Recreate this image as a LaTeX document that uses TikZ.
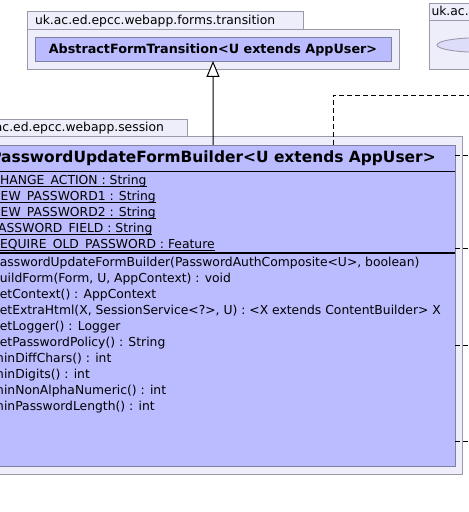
\documentclass[tikz,border=0pt]{standalone}
\usepackage{fontspec}
\setmainfont{DejaVu Sans}
\usetikzlibrary{arrows.meta,shapes.geometric}
\definecolor{pkgfill}{RGB}{238,238,250}
\definecolor{pkgline}{RGB}{153,153,170}
\definecolor{clsfill}{RGB}{187,187,255}
\definecolor{clsline}{RGB}{128,128,160}
\definecolor{ellfill}{RGB}{221,221,250}
\begin{document}
\begin{tikzpicture}[x=1bp,y=-1bp,
  box/.style={inner sep=0pt,outer sep=0pt,anchor=north west,line width=0.9bp},
  pkg/.style={box,draw=pkgline,fill=pkgfill},
  cls/.style={box,draw=clsline,fill=clsfill},
  txt/.style={inner sep=0pt,outer sep=0pt,anchor=base west,font=\fontsize{12.4}{15}\selectfont},
  btxt/.style={inner sep=0pt,outer sep=0pt,anchor=base,font=\fontsize{12.8}{15}\selectfont\bfseries},
  ttxt/.style={inner sep=0pt,outer sep=0pt,anchor=base,font=\fontsize{15.5}{18}\selectfont\bfseries},
  dep/.style={line width=0.9bp,dash pattern=on 5bp off 3bp},
  uline/.style={line width=0.8bp}]
\useasboundingbox (0,0) rectangle (469,512);
\clip (0,0) rectangle (469,512);
\fill[white] (0,0) rectangle (469,512);
% package: transition
\node[pkg,minimum width=276bp,minimum height=18bp] (p1tab) at (27,11) {};
\node[pkg,minimum width=372bp,minimum height=40bp] (p1) at (27,29) {};
\node[txt] (p1lab) at (35,25) {uk.ac.ed.epcc.webapp.forms.transition};
\node[cls,minimum width=356bp,minimum height=24bp] (c1) at (35,37) {};
\node[btxt] (c1lab) at (213,53.5) {AbstractFormTransition<U extends AppUser>};
% package: right
\node[pkg,minimum width=60bp,minimum height=17bp] (p3tab) at (429,3) {};
\node[pkg,minimum width=60bp,minimum height=49bp] (p3) at (429,20) {};
\node[txt] (p3lab) at (431.5,15.5) {uk.ac.ed};
\node[ellipse,draw=pkgline,fill=ellfill,line width=0.9bp,minimum width=86bp,minimum height=14.6bp,inner sep=0pt] (e3) at (480,45) {};
% package: session
\node[pkg,minimum width=219bp,minimum height=17bp] (p2tab) at (-32,119) {};
\node[pkg,minimum width=494.5bp,minimum height=338bp] (p2) at (-32,136) {};
\node[txt] (p2lab) at (-24,131.5) {uk.ac.ed.epcc.webapp.session};
\node[cls,minimum width=484bp,minimum height=321bp] (c2) at (-29,145) {};
\node[ttxt] (c2lab) at (213,163) {PasswordUpdateFormBuilder<U extends AppUser>};
\draw[line width=1bp] (-29,171.5) -- (455,171.5);
\draw[line width=2bp] (-29,253) -- (455,253);
% attributes
\node[txt] (a1) at (-8.5,184.5) {CHANGE\_ACTION : String};
\node[txt] (a2) at (-8.5,200.5) {NEW\_PASSWORD1 : String};
\node[txt] (a3) at (-8.5,216.5) {NEW\_PASSWORD2 : String};
\node[txt] (a4) at (-8.5,232.5) {PASSWORD\_FIELD : String};
\node[txt] (a5) at (-8.5,248.5) {REQUIRE\_OLD\_PASSWORD : Feature};
\foreach \a in {a1,a2,a3,a4,a5}
  \draw[uline] ([yshift=-1.8bp]\a.base west) -- ([yshift=-1.8bp]\a.base east);
% methods
\node[txt] (m1) at (-8,266.5) {passwordUpdateFormBuilder(PasswordAuthComposite<U>, boolean)};
\node[txt] (m2) at (-8,282.5) {buildForm(Form, U, AppContext) : void};
\node[txt] (m3) at (-8,298.5) {getContext() : AppContext};
\node[txt] (m4) at (-8,314.5) {getExtraHtml(X, SessionService<?>, U) : <X extends ContentBuilder> X};
\node[txt] (m5) at (-8,330.5) {getLogger() : Logger};
\node[txt] (m6) at (-8,346.5) {getPasswordPolicy() : String};
\node[txt] (m7) at (-8,362.5) {minDiffChars() : int};
\node[txt] (m8) at (-8,378.5) {minDigits() : int};
\node[txt] (m9) at (-8,394.5) {minNonAlphaNumeric() : int};
\node[txt] (m10) at (-8,410.5) {minPasswordLength() : int};
% generalisation
\draw[line width=1bp,-{Triangle[open,fill=white,length=16bp,width=13bp]}] (c2.north) -- (c1.south);
% dependencies
\coordinate (d1) at (333,95);
\coordinate (d2) at (475,95);
\draw[dep] (c2.north -| d1) -- (d1) -- (d2);
\coordinate (r1) at (475,155.5);
\coordinate (r2) at (475,248.5);
\coordinate (r3) at (475,345.5);
\coordinate (r4) at (475,441);
\foreach \r in {r1,r2,r3,r4}
  \draw[dep] (c2.east |- \r) -- (\r);
\end{tikzpicture}
\end{document}
